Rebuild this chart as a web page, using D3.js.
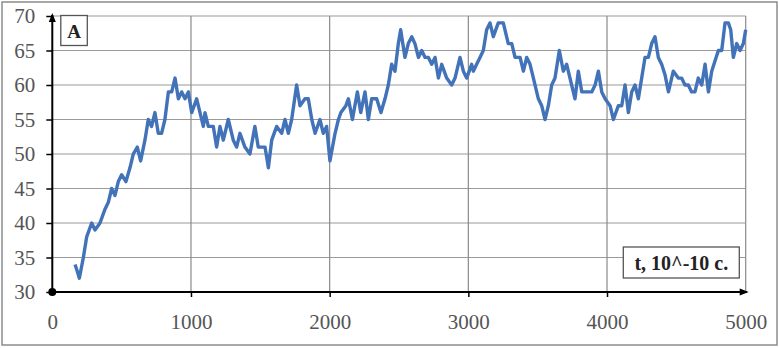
<!DOCTYPE html>
<html>
<head>
<meta charset="utf-8">
<script src="https://cdn.jsdelivr.net/npm/d3@7"></script>
<style>
  body { margin: 0; background: #fff; }
  svg { display: block; }
</style>
</head>
<body>
<svg width="779" height="348"></svg>
<script>
// time, 10^-10 s
const times = [164, 180, 195, 224, 248, 284, 308, 344, 380, 404, 428, 452, 476, 500, 531, 560, 584, 613, 637, 668,
  692, 716, 740, 764, 788, 812, 837, 861, 885, 909, 933, 957, 981, 1005, 1041, 1065, 1089, 1101, 1125, 1161,
  1185, 1209, 1233, 1269, 1305, 1329, 1353, 1389, 1425, 1461, 1485, 1510, 1534, 1558, 1582, 1618, 1654, 1678, 1702, 1726,
  1762, 1786, 1822, 1846, 1871, 1895, 1930, 1954, 1978, 2002, 2039, 2063, 2081, 2117, 2135, 2164, 2200, 2224, 2255, 2279,
  2303, 2339, 2370, 2399, 2423, 2447, 2471, 2495, 2512, 2543, 2567, 2592, 2615, 2640, 2664, 2688, 2712, 2736, 2760, 2784,
  2808, 2844, 2880, 2904, 2940, 2964, 2988, 3024, 3036, 3060, 3084, 3108, 3132, 3156, 3180, 3216, 3252, 3288, 3313, 3337,
  3373, 3397, 3421, 3445, 3469, 3505, 3529, 3553, 3577, 3601, 3625, 3656, 3685, 3709, 3733, 3769, 3793, 3818, 3854, 3890,
  3914, 3938, 3962, 3986, 4022, 4046, 4082, 4106, 4130, 4154, 4178, 4202, 4226, 4250, 4274, 4298, 4322, 4346, 4370, 4394,
  4418, 4443, 4478, 4514, 4538, 4562, 4586, 4610, 4634, 4658, 4683, 4707, 4731, 4755, 4779, 4803, 4827, 4851, 4875, 4892,
  4911, 4935, 4959, 4983, 5000];
const values = [34, 33, 32, 35, 38, 40, 39, 40, 42, 43, 45, 44, 46, 47, 46, 48, 50, 51, 49, 52,
  55, 54, 56, 53, 53, 55, 59, 59, 61, 58, 59, 58, 59, 56, 58, 56, 54, 56, 54, 54,
  51, 54, 52, 55, 52, 51, 53, 51, 50, 54, 51, 51, 51, 48, 52, 54, 53, 55, 53, 55,
  60, 57, 58, 58, 55, 53, 55, 53, 54, 49, 53, 55, 56, 57, 58, 55, 59, 56, 59, 55,
  58, 58, 56, 58, 60, 63, 62, 66, 68, 64, 66, 67, 66, 64, 65, 64, 64, 63, 64, 61,
  63, 61, 60, 61, 64, 62, 61, 63, 62, 63, 64, 65, 68, 69, 67, 69, 69, 66, 66, 64,
  64, 62, 64, 63, 61, 58, 57, 55, 57, 60, 61, 65, 62, 63, 61, 58, 62, 59, 59, 59,
  60, 62, 59, 58, 57, 55, 57, 57, 60, 56, 59, 60, 58, 61, 64, 64, 66, 67, 64, 63,
  61.5, 59, 62, 61, 61, 60, 60, 59, 59, 61, 60, 63, 59, 62, 63.5, 65, 65, 69, 69, 68,
  64, 66, 65, 66, 68];
const xTicks = [0, 1000, 2000, 3000, 4000, 5000];
const yTicks = [30, 35, 40, 45, 50, 55, 60, 65, 70];
const panelLabel = "A";
const xLabel = "t, 10^-10 c.";

const data = times.map((t, i) => ({t: t, v: values[i]}));

const svg = d3.select("svg"),
    margin = {top: 16, right: 33.3, bottom: 56, left: 52.3},
    width = 779 - margin.left - margin.right,
    height = 348 - margin.top - margin.bottom;

// outer frame
svg.append("rect")
    .attr("x", 2).attr("y", 2).attr("width", 775).attr("height", 343)
    .attr("fill", "#fff").attr("stroke", "#8c8c8c").attr("stroke-width", 1.5);

const g = svg.append("g").attr("transform", "translate(" + margin.left + "," + margin.top + ")");

const x = d3.scaleLinear().domain([0, 5000]).range([0, width]);
const y = d3.scaleLinear().domain([30, 70]).range([height, 0]);

const font = "'Liberation Serif', 'Times New Roman', serif";

// grid
g.append("g").selectAll("line").data(yTicks.slice(1)).join("line")
    .attr("x1", 0).attr("x2", width)
    .attr("y1", d => y(d)).attr("y2", d => y(d))
    .attr("stroke", "#9a9a9a").attr("stroke-width", 1.2);
g.append("g").selectAll("line").data(xTicks.slice(1)).join("line")
    .attr("x1", d => x(d)).attr("x2", d => x(d))
    .attr("y1", 0).attr("y2", height)
    .attr("stroke", "#8a8a8a").attr("stroke-width", 1.2);

// axes
const yAxis = g.append("g")
    .call(d3.axisLeft(y).tickValues(yTicks).tickSize(6).tickPadding(11).tickFormat(d3.format("d")));
const xAxis = g.append("g")
    .attr("transform", "translate(0," + height + ")")
    .call(d3.axisBottom(x).tickValues(xTicks).tickSize(5).tickPadding(17).tickFormat(d3.format("d")));

[yAxis, xAxis].forEach(a => {
  a.select(".domain").remove();
  a.selectAll(".tick line").attr("stroke", "#000").attr("stroke-width", 1.5);
  a.selectAll("text")
      .attr("font-family", font).attr("font-size", 21)
      .attr("fill", "#555");
});
xAxis.selectAll(".tick").filter(d => d === 0 || d === 5000).select("line").remove();

// series
g.append("path")
    .datum(data)
    .attr("fill", "none")
    .attr("stroke", "#4272b8")
    .attr("stroke-width", 3.4)
    .attr("stroke-linejoin", "round")
    .attr("d", d3.line().x(d => x(d.t)).y(d => y(d.v)));

// axis lines with arrows
g.append("line").attr("x1", 0).attr("x2", 0).attr("y1", height).attr("y2", -1)
    .attr("stroke", "#000").attr("stroke-width", 2);
g.append("line").attr("x1", 0).attr("x2", width + 1).attr("y1", height).attr("y2", height)
    .attr("stroke", "#000").attr("stroke-width", 2);
g.append("path").attr("d", "M0,-3 L-3.5,6 L3.5,6 Z").attr("fill", "#000");
g.append("path").attr("transform", "translate(" + width + "," + height + ")")
    .attr("d", "M3,0 L-6,-3.5 L-6,3.5 Z").attr("fill", "#000");
g.append("circle").attr("cx", 0).attr("cy", height).attr("r", 4).attr("fill", "#000");

// panel label
g.append("rect").attr("x", 8.5).attr("y", -0.5).attr("width", 26.5).attr("height", 30)
    .attr("fill", "#fff").attr("stroke", "#555").attr("stroke-width", 1.3);
g.append("text").attr("x", 21.7).attr("y", 22)
    .attr("text-anchor", "middle").attr("font-family", font)
    .attr("font-weight", "bold").attr("font-size", 19).attr("fill", "#222")
    .text(panelLabel);

// x axis title
g.append("rect").attr("x", 571).attr("y", 231).attr("width", 116).attr("height", 31)
    .attr("fill", "#fff").attr("stroke", "#555").attr("stroke-width", 1.3);
g.append("text").attr("x", 629).attr("y", 254)
    .attr("text-anchor", "middle").attr("font-family", font)
    .attr("font-weight", "bold").attr("font-size", 20).attr("fill", "#222")
    .text(xLabel);
</script>
</body>
</html>
